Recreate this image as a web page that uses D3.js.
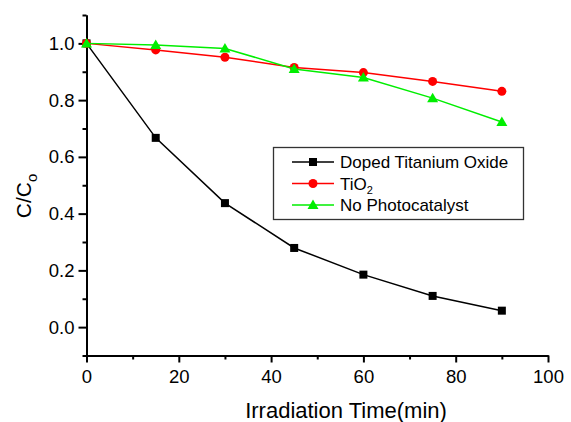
<!DOCTYPE html>
<html>
<head>
<meta charset="utf-8">
<script src="https://cdn.jsdelivr.net/npm/d3@7"></script>
<style>
  body { margin: 0; background: #fff; }
  svg { font-family: "Liberation Sans", Arial, sans-serif; }
</style>
</head>
<body>
<svg id="chart" width="571" height="422"></svg>
<script>
// irradiation times (min)
const times = [0, 15, 30, 45, 60, 75, 90];
// C/Co values
const doped = [1.0, 0.667, 0.437, 0.279, 0.185, 0.110, 0.058];
const tio2 = [1.0, 0.977, 0.951, 0.915, 0.897, 0.866, 0.831];
const noCat = [1.0, 0.994, 0.982, 0.910, 0.880, 0.807, 0.723];

const xTicks = [0, 20, 40, 60, 80, 100];
const yTicks = [0.0, 0.2, 0.4, 0.6, 0.8, 1.0];
const xMinor = [10, 30, 50, 70, 90];
const yMinor = [-0.1, 0.1, 0.3, 0.5, 0.7, 0.9, 1.1];

const series = [
    {name: "Doped Titanium Oxide", values: doped, color: "#000000", marker: "square"},
    {name: "TiO2", values: tio2, color: "#ff0000", marker: "circle"},
    {name: "No Photocatalyst", values: noCat, color: "#00ee00", marker: "triangle"}
];

const svg = d3.select("#chart");
const x = d3.scaleLinear().domain([0, 100]).range([86.5, 548]);
const y = d3.scaleLinear().domain([-0.1, 1.1]).range([355.5, 15]);

const styleAxis = g => {
    g.select(".domain").style("stroke", "#000").style("stroke-width", "2px");
    g.selectAll(".tick line").style("stroke", "#000").style("stroke-width", "2px");
    g.selectAll(".tick text").style("fill", "#000").style("font-family", "'Liberation Sans', Arial, sans-serif");
};

// x axis: minor ticks first, then major ticks with labels
svg.append("g").attr("transform", `translate(0,${y(-0.1)})`)
    .call(d3.axisBottom(x).tickValues(xMinor).tickFormat(() => "").tickSize(4).tickSizeOuter(0))
    .call(styleAxis);
svg.append("g").attr("transform", `translate(0,${y(-0.1)})`)
    .call(d3.axisBottom(x).tickValues(xTicks).tickFormat(d3.format("d")).tickSize(7).tickPadding(7).tickSizeOuter(0))
    .call(styleAxis)
    .call(g => g.selectAll(".tick text").style("font-size", "18.5px"));

// y axis
svg.append("g").attr("transform", `translate(${x(0)},0)`)
    .call(d3.axisLeft(y).tickValues(yMinor).tickFormat(() => "").tickSize(4).tickSizeOuter(0))
    .call(styleAxis);
svg.append("g").attr("transform", `translate(${x(0)},0)`)
    .call(d3.axisLeft(y).tickValues(yTicks).tickFormat(d3.format(".1f")).tickSize(8).tickPadding(4).tickSizeOuter(0))
    .call(styleAxis)
    .call(g => g.selectAll(".tick text").style("font-size", "18.5px"));

// axis titles
svg.append("text").attr("x", 346).attr("y", 418).attr("text-anchor", "middle")
    .style("font-size", "22px").text("Irradiation Time(min)");
const yl = svg.append("text").attr("transform", "translate(31,196) rotate(-90)")
    .attr("text-anchor", "middle").style("font-size", "21px");
yl.append("tspan").text("C/C");
yl.append("tspan").attr("dy", 6).style("font-size", "15px").text("o");

// markers
const drawMarker = (g, type, color, cx, cy) => {
    if(type === "square"){
        g.append("rect").attr("x", cx - 4).attr("y", cy - 4).attr("width", 8).attr("height", 8).attr("fill", color);
    } else if(type === "circle"){
        g.append("circle").attr("cx", cx).attr("cy", cy).attr("r", 4.5).attr("fill", color);
    } else {
        g.append("path").attr("d", `M${cx},${cy - 5.5}L${cx + 5.5},${cy + 4}L${cx - 5.5},${cy + 4}Z`).attr("fill", color);
    }
};

const line = d3.line().x((d, i) => x(times[i])).y(d => y(d));
series.forEach(s => {
    const g = svg.append("g");
    g.append("path").attr("d", line(s.values)).attr("fill", "none")
        .attr("stroke", s.color).attr("stroke-width", 1.5);
    s.values.forEach((v, i) => drawMarker(g, s.marker, s.color, x(times[i]), y(v)));
});

// legend
const lg = svg.append("g");
lg.append("rect").attr("x", 273.5).attr("y", 147.5).attr("width", 250).attr("height", 72)
    .attr("fill", "#fff").attr("stroke", "#333").attr("stroke-width", 1.3);
series.forEach((s, i) => {
    const ly = 162 + i * 21.5;
    lg.append("line").attr("x1", 292).attr("x2", 334).attr("y1", ly).attr("y2", ly)
        .attr("stroke", s.color).attr("stroke-width", 1.5);
    drawMarker(lg, s.marker, s.color, 313, ly);
    const t = lg.append("text").attr("x", 340).attr("y", ly + 6).style("font-size", "17px");
    if(s.name === "TiO2"){
        t.append("tspan").text("TiO");
        t.append("tspan").attr("dy", 4).style("font-size", "11px").text("2");
    } else {
        t.text(s.name);
    }
});
</script>
</body>
</html>
